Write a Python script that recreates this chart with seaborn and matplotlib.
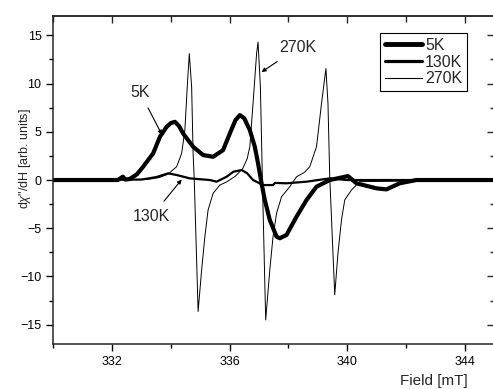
import matplotlib
matplotlib.use('Agg')
from matplotlib import pyplot as plt
from matplotlib.ticker import MultipleLocator
import seaborn as sns
import pandas as pd

#### DATA ####################################################################

field_5k = [330.0, 332.2, 332.37, 332.45, 332.6, 332.85, 333.06, 333.40, 333.63, 333.86,
            334.0, 334.14, 334.28, 334.42, 334.76, 335.10, 335.44, 335.78, 336.01,
            336.2, 336.35, 336.5, 336.69, 336.86, 336.97, 337.09, 337.20, 337.37,
            337.60, 337.71, 337.94, 338.28, 338.62, 338.96, 339.30, 339.41, 340.03,
            340.32, 341.0, 341.34, 341.79, 342.36, 345.0]
dchi_5k = [0.0, 0.0, 0.35, 0.05, 0.1, 0.6, 1.38, 2.76, 4.48, 5.52,
           5.9, 6.04, 5.6, 4.83, 3.45, 2.59, 2.41, 3.1, 4.83,
           6.2, 6.73, 6.4, 5.18, 3.45, 1.73, -0.34, -2.07, -4.14,
           -5.87, -6.04, -5.69, -3.8, -2.07, -0.69, -0.17, 0.0, 0.41,
           -0.34, -0.86, -0.97, -0.34, 0.0, 0.0]

field_130k = [330.0, 333.0, 333.5, 333.91, 334.2, 334.65, 335.33, 335.56, 335.9,
              336.13, 336.41, 336.6, 336.8, 337.14, 337.48, 337.55, 337.94, 338.62,
              339.41, 340.0, 345.0]
dchi_130k = [0.0, 0.05, 0.3, 0.69, 0.52, 0.17, 0.0, -0.17, 0.34,
             0.86, 1.04, 0.7, 0.0, -0.52, -0.52, -0.3, -0.34, -0.17,
             0.17, 0.0, 0.0]

field_270k = [330.0, 333.2, 333.6, 333.9, 334.2, 334.37, 334.48, 334.56, 334.63,
              334.71, 334.76, 334.80, 334.93, 335.05, 335.16, 335.27, 335.44, 335.67,
              335.9, 336.2, 336.45, 336.6, 336.69, 336.8, 336.92, 336.97, 337.05,
              337.12, 337.23, 337.37, 337.48, 337.6, 337.77, 338.05, 338.28, 338.55,
              338.73, 338.96, 339.13, 339.28, 339.35, 339.41, 339.58, 339.69, 339.81,
              339.92, 340.15, 340.43, 345.0]
dchi_270k = [0.0, 0.05, 0.25, 0.6, 1.38, 2.76, 5.18, 9.66, 13.1,
             9.66, 2.76, 0.0, -13.63, -9.32, -5.87, -3.1, -1.38, -0.52,
             -0.2, 0.4, 1.2, 2.2, 3.45, 7.94, 13.1, 14.3, 9.66,
             -0.3, -14.5, -9.32, -5.87, -3.45, -1.73, -0.69, 0.34, 0.8,
             1.38, 3.45, 7.94, 11.56, 7.94, 0.34, -11.9, -7.59, -4.14,
             -2.07, -1.03, -0.17, 0.0]

labels = ['5K', '130K', '270K']
widths = [3.0, 1.6, 0.7]

#### PLOT ####################################################################

sns.set_style('ticks')
plt.rcParams['font.family'] = ['Liberation Sans', 'DejaVu Sans']
plt.rcParams['mathtext.fontset'] = 'custom'
plt.rcParams['mathtext.it'] = 'Liberation Sans:italic'

fig = plt.figure(figsize=(4.93, 3.89), dpi=100)
ax = fig.add_axes([0.108, 0.1157, 0.894, 0.843])

series = [(field_5k, dchi_5k), (field_130k, dchi_130k), (field_270k, dchi_270k)]
for (fx, fy), lab, lw in zip(series, labels, widths):
    df = pd.DataFrame({'field': fx, 'dchi': fy})
    sns.lineplot(data=df, x='field', y='dchi', ax=ax, color='black', linewidth=lw,
                 sort=False, estimator=None, label=lab)
for line in ax.get_lines():
    line.set_solid_joinstyle('round')

ax.set_xlim(330, 345)
ax.set_ylim(-17, 17)
ax.set_xticks([332, 336, 340, 344])
ax.xaxis.set_minor_locator(MultipleLocator(2))
ax.yaxis.set_major_locator(MultipleLocator(5))
ax.yaxis.set_minor_locator(MultipleLocator(2.5))
ax.tick_params(which='both', direction='out', labelsize=9, width=1, colors='black')
ax.tick_params(which='major', length=5)
ax.tick_params(which='minor', length=3)
for s in ax.spines.values():
    s.set_linewidth(1.1)
    s.set_visible(True)

# mirrored ticks pointing inwards, like Origin
top = ax.secondary_xaxis('top')
top.set_xticks([332, 336, 340, 344])
top.xaxis.set_minor_locator(MultipleLocator(2))
top.tick_params(which='both', direction='in', labeltop=False, width=1)
top.tick_params(which='major', length=5)
top.tick_params(which='minor', length=4)
top.spines['top'].set_linewidth(1.1)
right = ax.secondary_yaxis('right')
right.yaxis.set_major_locator(MultipleLocator(5))
right.yaxis.set_minor_locator(MultipleLocator(2.5))
right.tick_params(which='both', direction='in', labelright=False, width=1)
right.tick_params(which='major', length=5)
right.tick_params(which='minor', length=3)

ax.set_xlabel('Field [mT]', fontsize=11, ha='right', va='top')
ax.xaxis.set_label_coords(0.941, -0.09)
ax.set_ylabel('d$\\mathit{\\chi}$"/dH [arb. units]', fontsize=9)
ax.yaxis.set_label_coords(-0.046, 0.564)

arrow = dict(arrowstyle='-|>', color='black', lw=0.8, mutation_scale=6, shrinkA=4, shrinkB=0)
ax.annotate('5K', xy=(333.70, 4.7), xytext=(332.95, 9.1), fontsize=11.5,
            ha='center', va='center', arrowprops=arrow)
ax.annotate('270K', xy=(337.09, 11.2), xytext=(338.33, 13.72), fontsize=11.5,
            ha='center', va='center', arrowprops=arrow)
ax.annotate('130K', xy=(334.37, 0.05), xytext=(333.35, -3.76), fontsize=11.5,
            ha='center', va='center', arrowprops=arrow)

leg = ax.legend(loc='upper right', bbox_to_anchor=(0.939, 0.948), fontsize=11.5,
                frameon=True, fancybox=False, edgecolor='black', framealpha=1,
                handlelength=2.3, handletextpad=0.2, labelspacing=0.1,
                borderpad=0.3, borderaxespad=0)
leg.get_frame().set_linewidth(0.8)
for line, lw in zip(leg.get_lines(), [3.5, 2.3, 0.8]):
    line.set_linewidth(lw)

fig.savefig('out.png', dpi=100)
